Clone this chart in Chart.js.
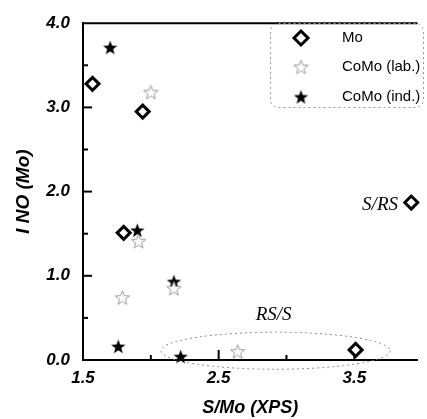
<!DOCTYPE html>
<html>
<head>
<meta charset="utf-8">
<script src="https://cdn.jsdelivr.net/npm/chart.js@4"></script>
<style>
  body { margin: 0; background: #fff; }
  canvas { display: block; }
</style>
</head>
<body>
<canvas id="myChart" width="427" height="419"></canvas>
<script>
// values
var moX = [1.57, 1.94, 1.80, 3.92, 3.51];
var moY = [3.28, 2.95, 1.51, 1.87, 0.12];
var labX = [2.00, 1.79, 1.91, 2.17, 2.64];
var labY = [3.18, 0.74, 1.41, 0.85, 0.10];
var indX = [1.70, 1.90, 2.17, 1.76, 2.22];
var indY = [3.71, 1.54, 0.93, 0.16, 0.04];
var seriesNames = ["Mo", "CoMo (lab.)", "CoMo (ind.)"];
var xTickLabels = [1.5, 2.5, 3.5];
var yTickLabels = [0, 1, 2, 3, 4];
var notes = [
  { text: "S/RS", x: 3.69, y: 1.84 },
  { text: "RS/S", x: 2.905, y: 0.53 }
];
// dotted ellipse round the bottom group (centre and half widths in data units)
var ringX = 2.92, ringY = 0.11, ringRx = 0.845, ringRy = 0.22;

function pts(xs, ys) {
  var out = [];
  for (var i = 0; i < xs.length; i++) out.push({ x: xs[i], y: ys[i] });
  return out;
}

function makeStar(fill, stroke, r) {
  var c = document.createElement("canvas");
  c.width = c.height = Math.ceil(r * 2 + 4);
  var g = c.getContext("2d");
  var cx = c.width / 2, cy = c.height / 2 + 0.6;
  g.beginPath();
  for (var i = 0; i < 10; i++) {
    var rr = i % 2 == 0 ? r : r * 0.42;
    var a = -Math.PI / 2 + i * Math.PI / 5;
    g.lineTo(cx + rr * Math.cos(a), cy + rr * Math.sin(a));
  }
  g.closePath();
  g.fillStyle = fill;
  g.fill();
  if (stroke) {
    g.strokeStyle = stroke;
    g.lineWidth = 1;
    g.stroke();
  }
  return c;
}

var starFull = makeStar("#000", null, 7.5);
var starOpen = makeStar("#fff", "#9a9a9a", 7.5);

var boldItal = { family: "'Liberation Sans', Arial, sans-serif", size: 17, weight: "bold", style: "italic" };

var extras = {
  id: "extras",
  beforeDatasetsDraw: function (chart) {
    var ctx = chart.ctx, xs = chart.scales.x, ys = chart.scales.y, a = chart.chartArea;
    ctx.save();
    ctx.strokeStyle = "#000";
    ctx.lineWidth = 2;
    // top frame line
    ctx.beginPath();
    ctx.moveTo(a.left - 1, a.top);
    ctx.lineTo(a.right, a.top);
    ctx.stroke();
    // inward ticks on y
    [0.5, 1, 1.5, 2, 2.5, 3, 3.5].forEach(function (v) {
      var len = v % 1 == 0 ? 9 : 5;
      var py = ys.getPixelForValue(v);
      ctx.beginPath();
      ctx.moveTo(a.left, py);
      ctx.lineTo(a.left + len, py);
      ctx.stroke();
    });
    // inward ticks on x
    [2, 2.5, 3, 3.5].forEach(function (v) {
      var len = v % 1 == 0 ? 5 : 10;
      var px = xs.getPixelForValue(v);
      ctx.beginPath();
      ctx.moveTo(px, a.bottom);
      ctx.lineTo(px, a.bottom - len);
      ctx.stroke();
    });
    // dotted ellipse
    var cx = xs.getPixelForValue(ringX), cy = ys.getPixelForValue(ringY);
    var rx = xs.getPixelForValue(ringX + ringRx) - cx;
    var ry = cy - ys.getPixelForValue(ringY + ringRy);
    ctx.strokeStyle = "#8a8a8a";
    ctx.lineWidth = 1;
    ctx.setLineDash([2, 3]);
    ctx.beginPath();
    ctx.ellipse(cx, cy, rx, ry, 0, 0, Math.PI * 2);
    ctx.stroke();
    ctx.setLineDash([]);
    // notes
    ctx.fillStyle = "#000";
    ctx.font = "italic 19px 'Liberation Serif', 'Times New Roman', serif";
    ctx.textAlign = "center";
    ctx.textBaseline = "middle";
    notes.forEach(function (n) {
      ctx.fillText(n.text, xs.getPixelForValue(n.x), ys.getPixelForValue(n.y));
    });
    ctx.restore();
  },
  afterDatasetsDraw: function (chart) {
    // legend box inside the plot
    var ctx = chart.ctx;
    ctx.save();
    ctx.strokeStyle = "#9a9a9a";
    ctx.lineWidth = 1;
    ctx.setLineDash([2, 3]);
    ctx.beginPath();
    ctx.roundRect(270.5, 23.5, 153, 84, 8);
    ctx.stroke();
    ctx.setLineDash([]);
    var rows = [38, 67, 97];
    var mx = 301;
    // diamond
    ctx.fillStyle = "#fff";
    ctx.strokeStyle = "#000";
    ctx.lineWidth = 3;
    ctx.beginPath();
    ctx.moveTo(mx, rows[0] - 7);
    ctx.lineTo(mx + 7, rows[0]);
    ctx.lineTo(mx, rows[0] + 7);
    ctx.lineTo(mx - 7, rows[0]);
    ctx.closePath();
    ctx.fill();
    ctx.stroke();
    ctx.drawImage(starOpen, mx - starOpen.width / 2, rows[1] - starOpen.height / 2);
    ctx.drawImage(starFull, mx - starFull.width / 2, rows[2] - starFull.height / 2);
    ctx.fillStyle = "#000";
    ctx.font = "15px 'Liberation Sans', Arial, sans-serif";
    ctx.textAlign = "left";
    ctx.textBaseline = "middle";
    for (var i = 0; i < seriesNames.length; i++) {
      ctx.fillText(seriesNames[i], 342, rows[i]);
    }
    ctx.restore();
  }
};

var config = {
  type: "scatter",
  data: {
    datasets: [
      {
        label: seriesNames[0],
        data: pts(moX, moY),
        pointStyle: "rectRot",
        pointRadius: 6.5,
        pointHoverRadius: 6.5,
        backgroundColor: "#fff",
        borderColor: "#000",
        borderWidth: 3,
        clip: false
      },
      {
        label: seriesNames[1],
        data: pts(labX, labY),
        pointStyle: starOpen,
        clip: false
      },
      {
        label: seriesNames[2],
        data: pts(indX, indY),
        pointStyle: starFull,
        clip: false
      }
    ]
  },
  options: {
    responsive: false,
    animation: false,
    devicePixelRatio: 1,
    layout: { padding: { top: 20, right: 0, left: 0, bottom: 0 } },
    plugins: {
      legend: false,
      tooltip: { enabled: false }
    },
    scales: {
      x: {
        type: "linear",
        min: 1.5,
        max: 3.966,
        grid: { display: false, drawTicks: false },
        border: { display: true, color: "#000", width: 2 },
        afterBuildTicks: function (s) {
          s.ticks = [1.5, 2, 2.5, 3, 3.5].map(function (v) { return { value: v }; });
        },
        afterFit: function (s) { s.height = 59; },
        ticks: {
          padding: 8,
          color: "#000",
          font: boldItal,
          maxRotation: 0,
          callback: function (v) {
            return xTickLabels.indexOf(v) >= 0 ? v.toFixed(1) : "";
          }
        },
        title: {
          display: true,
          text: "S/Mo (XPS)",
          color: "#000",
          font: { family: "'Liberation Sans', Arial, sans-serif", size: 18, weight: "bold", style: "italic" },
          padding: { top: 0, bottom: 0 }
        }
      },
      y: {
        min: 0,
        max: 4,
        grid: { display: false, drawTicks: false },
        border: { display: true, color: "#000", width: 2 },
        afterBuildTicks: function (s) {
          s.ticks = yTickLabels.map(function (v) { return { value: v }; });
        },
        afterFit: function (s) { s.width = 83; },
        ticks: {
          padding: 13,
          color: "#000",
          font: boldItal,
          callback: function (v) { return v.toFixed(1); }
        },
        title: {
          display: true,
          text: "I NO (Mo)",
          color: "#000",
          font: { family: "'Liberation Sans', Arial, sans-serif", size: 19, weight: "bold", style: "italic" },
          padding: { top: 12, bottom: 0 }
        }
      }
    }
  },
  plugins: [extras]
};

const myChart = new Chart(document.getElementById("myChart"), config);
</script>
</body>
</html>
